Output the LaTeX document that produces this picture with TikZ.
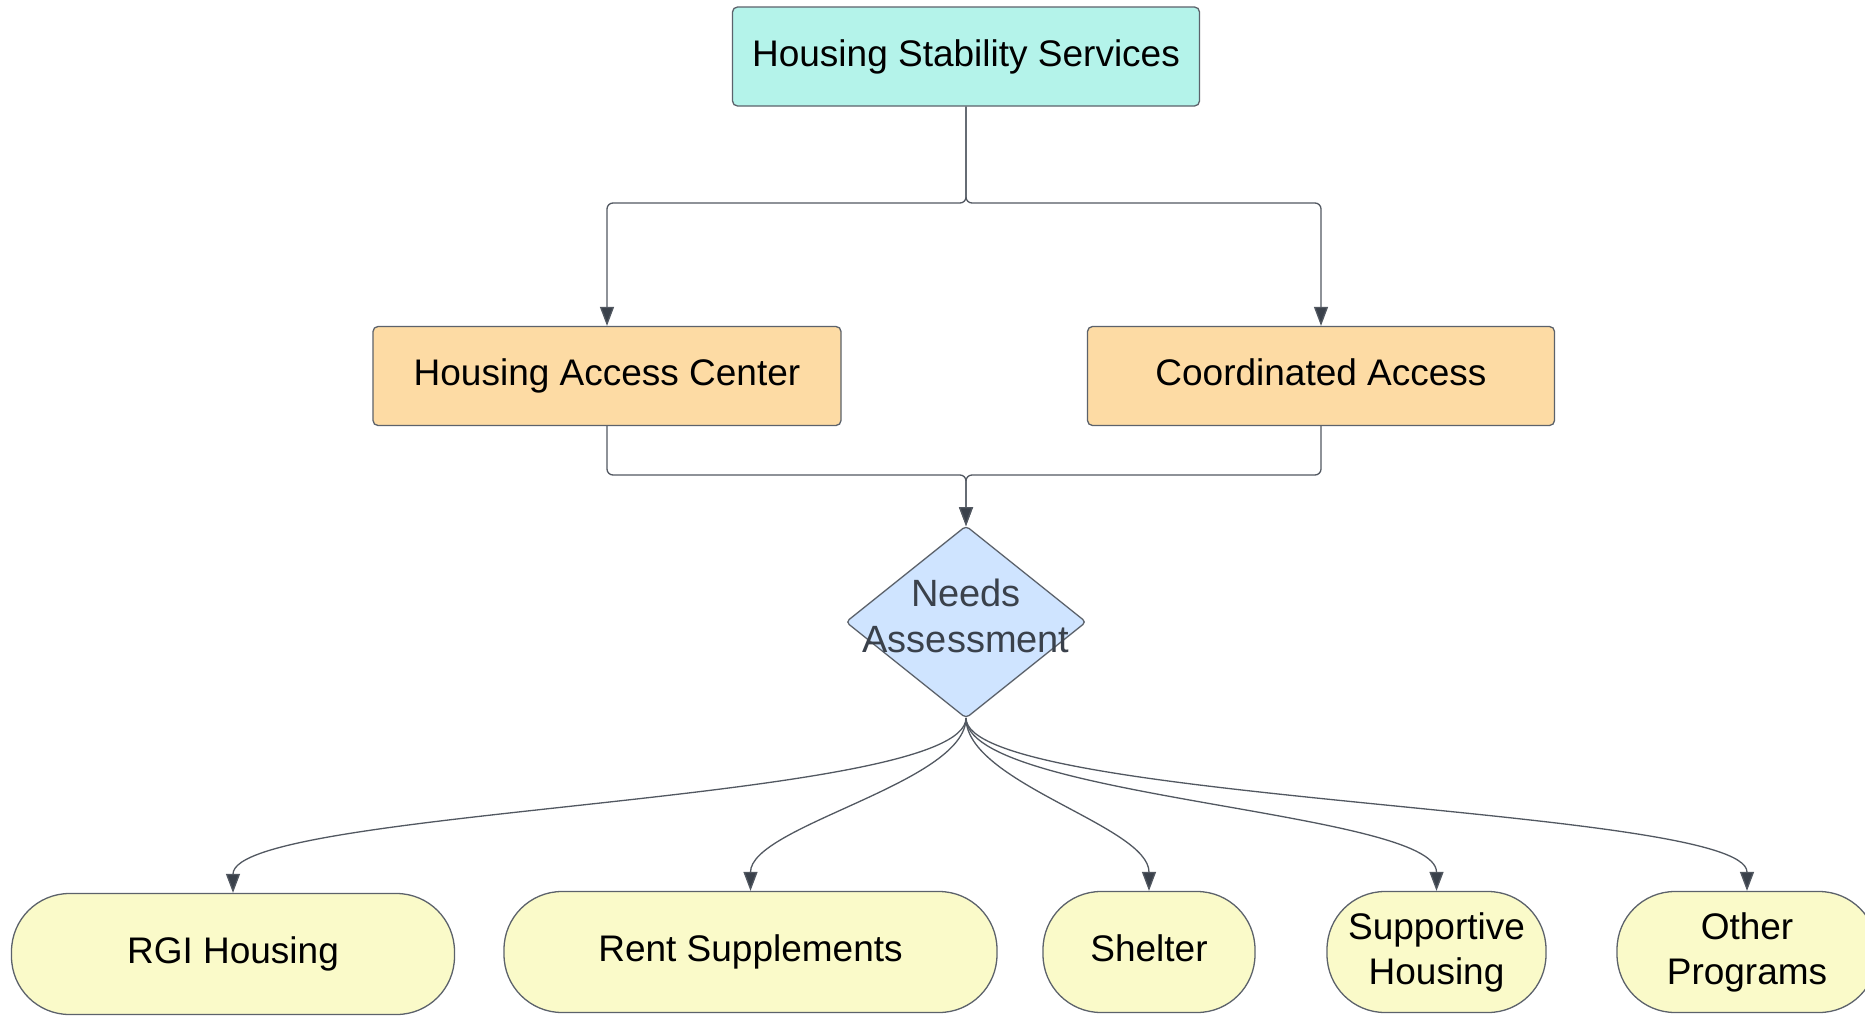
\documentclass[tikz,border=0pt]{standalone}
\usepackage{fontspec}
\setmainfont{Liberation Sans}
\usetikzlibrary{shapes.geometric,arrows.meta}
\definecolor{topfill}{RGB}{180,243,234}
\definecolor{midfill}{RGB}{253,219,164}
\definecolor{dfill}{RGB}{207,228,255}
\definecolor{leaffill}{RGB}{250,250,201}
\definecolor{edgecol}{RGB}{92,98,107}
\definecolor{linecol}{RGB}{82,88,97}
\definecolor{tipcol}{RGB}{58,65,75}
\begin{document}
\begin{tikzpicture}[x=1pt,y=-1pt,
  lbl/.style={font=\fontsize{37}{45}\selectfont,align=center},
  box/.style={lbl,draw=edgecol,line width=1.3pt,rounded corners=5pt,minimum height=99pt,inner sep=0pt},
  leaf/.style={lbl,draw=edgecol,fill=leaffill,line width=1.3pt,rounded corners=58pt,minimum height=121pt,inner sep=0pt},
  conn/.style={draw=linecol,line width=1.3pt,-{Triangle[length=19pt,width=14pt,fill=tipcol]},rounded corners=6pt},
  curv/.style={draw=linecol,line width=1.3pt,-{Triangle[length=19pt,width=14pt,fill=tipcol]}}
]
\clip (0,0) rectangle (1865,1015);
\fill[white] (0,0) rectangle (1865,1015);

\node[box,fill=topfill,minimum width=467pt] (top) at (966,56.5) {Housing Stability Services};
\node[box,fill=midfill,minimum width=468pt] (hac) at (607,376) {Housing Access Center};
\node[box,fill=midfill,minimum width=467pt] (ca) at (1321,376) {\vphantom{g}Coordinated Access};

\node[diamond,draw=edgecol,fill=dfill,line width=1.3pt,minimum width=240pt,minimum height=192pt,inner sep=0pt,outer sep=0pt,rounded corners=4pt] (diam) at (966,622) {};
\node[lbl,font=\fontsize{38}{46}\selectfont,text=tipcol] (diamtext) at (966,616) {Needs\\Assessment};

\node[leaf,minimum width=443pt] (rgi) at (233,954) {RGI Housing};
\node[leaf,minimum width=493pt] (rent) at (750.5,952) {Rent Supplements};
\node[leaf,minimum width=212pt] (shelter) at (1149,952) {\vphantom{g}Shelter};
\node[leaf,minimum width=219pt] (supp) at (1436.5,952) {Supportive\\Housing};
\node[leaf,minimum width=260pt] (other) at (1747,952) {Other\\Programs};

\coordinate (j1) at (966,203);
\coordinate (j2) at (966,475);

\draw[conn] (top.south) -- (j1) -| (hac.north);
\draw[conn] (top.south) -- (j1) -| (ca.north);
\draw[conn] (hac.south) |- (j2) -- (diam.north);
\draw[conn] (ca.south) |- (j2) -- (diam.north);

\draw[curv] (diam.south) .. controls +(0,85) and +(0,-85) .. (rgi.north);
\draw[curv] (diam.south) .. controls +(0,65) and +(0,-65) .. (rent.north);
\draw[curv] (diam.south) .. controls +(0,65) and +(0,-65) .. (shelter.north);
\draw[curv] (diam.south) .. controls +(0,80) and +(0,-80) .. (supp.north);
\draw[curv] (diam.south) .. controls +(0,85) and +(0,-85) .. (other.north);
\end{tikzpicture}
\end{document}
